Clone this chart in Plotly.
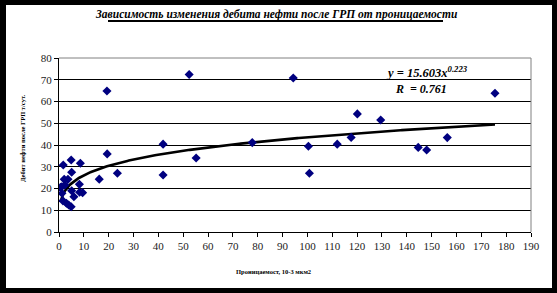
import numpy as np
import plotly.graph_objects as go

# Data
perm = [1.7, 4.9, 8.6, 5.1, 2.1, 3.6, 1.1, 2.4, 8.2, 5.1, 8.3, 9.5, 6.0, 1.6, 3.0, 3.9, 4.9, 1.2, 0.6,
        16.2, 19.3, 19.4, 23.5, 41.9, 41.9, 52.4, 55.2, 77.8, 94.3, 100.4, 100.8, 112.0, 117.6,
        120.1, 129.5, 144.6, 148.0, 156.3, 175.5]
rate = [30.8, 33.1, 31.6, 27.5, 24.2, 24.2, 20.8, 21.6, 21.9, 19.0, 18.3, 18.1, 16.2, 14.3, 13.2, 12.4, 11.6, 17.8, 20.6,
        24.3, 64.8, 35.9, 27.0, 40.4, 26.2, 72.4, 34.0, 41.1, 70.8, 39.4, 27.0, 40.4, 43.5,
        54.3, 51.5, 38.9, 37.7, 43.4, 63.8]

# Power trendline coefficients as displayed on the chart
coef_a = 15.603
coef_b = 0.223
r_value = 0.761

x_ticks = list(range(0, 200, 10))
y_ticks = list(range(0, 90, 10))

title_text = "Зависимость изменения дебита нефти после ГРП от проницаемости"
x_title = "Проницаемост, 10-3 мкм2"
y_title = "Дебит нефти после ГРП т/сут."

W, H = 557, 293
L, R, T, B = 59, 26, 58, 61
PW, PH = W - L - R, H - T - B


def px(x):
    return (x - L) / PW


def py(y):
    return (H - B - y) / PH


trend_x = np.linspace(min(perm), max(perm), 300)
trend_y = coef_a * trend_x ** coef_b

fig = go.Figure()
fig.add_trace(go.Scatter(x=trend_x, y=trend_y, mode="lines",
                         line=dict(color="black", width=2.6), hoverinfo="skip"))
fig.add_trace(go.Scatter(x=perm, y=rate, mode="markers",
                         marker=dict(symbol="diamond", size=7, color="#000080",
                                     line=dict(width=0))))

serif = "Liberation Serif, Times New Roman, serif"

fig.update_layout(
    width=W, height=H,
    margin=dict(l=L, r=R, t=T, b=B, pad=0),
    paper_bgcolor="black",
    plot_bgcolor="white",
    showlegend=False,
    font=dict(family=serif, color="black", size=11),
    xaxis=dict(range=[0, 190], tickvals=x_ticks, showgrid=False, zeroline=False,
               showline=True, linecolor="black", linewidth=1,
               ticks="outside", ticklen=4, tickcolor="black",
               tickfont=dict(family=serif, size=11, color="#222")),
    yaxis=dict(range=[0, 80], tickvals=y_ticks, showgrid=True, gridcolor="black", gridwidth=1,
               zeroline=False, showline=True, linecolor="black", linewidth=1,
               ticks="outside", ticklen=4, tickcolor="black",
               tickfont=dict(family=serif, size=11, color="#222")),
)

shapes = [
    # white card on black background
    dict(type="rect", xref="paper", yref="paper", x0=px(6), x1=px(552), y0=py(288), y1=py(5),
         fillcolor="white", line=dict(width=0), layer="below"),
    # grey plot-area border (top and right)
    dict(type="line", xref="paper", yref="paper", x0=0, x1=1, y0=1, y1=1,
         line=dict(color="#808080", width=1), layer="above"),
    dict(type="line", xref="paper", yref="paper", x0=1, x1=1, y0=0, y1=1,
         line=dict(color="#808080", width=1), layer="above"),
    # title underline
    dict(type="line", xref="paper", yref="paper", x0=px(108), x1=px(443), y0=py(21), y1=py(21),
         line=dict(color="black", width=2), layer="above"),
]
fig.update_layout(shapes=shapes)

annotations = [
    dict(text="<b><i>" + title_text + "</i></b>", x=px(276), y=py(15), xref="paper", yref="paper",
         showarrow=False, xanchor="center", yanchor="middle",
         font=dict(family=serif, size=11.5, color="black")),
    dict(text="<b><i>y = %.3fx<sup>%.3f</sup></i></b>" % (coef_a, coef_b), x=px(427), y=py(72),
         xref="paper", yref="paper", showarrow=False, xanchor="center", yanchor="middle",
         font=dict(family=serif, size=12.5, color="black")),
    dict(text="<b><i>R  = %.3f</i></b>" % r_value, x=px(421), y=py(89),
         xref="paper", yref="paper", showarrow=False, xanchor="center", yanchor="middle",
         font=dict(family=serif, size=12, color="black")),
    dict(text="<b>" + x_title + "</b>", x=px(273), y=py(271), xref="paper", yref="paper",
         showarrow=False, xanchor="center", yanchor="middle",
         font=dict(family=serif, size=6.5, color="black")),
    dict(text="<b>" + y_title + "</b>", x=px(22), y=py(138), xref="paper", yref="paper",
         showarrow=False, xanchor="center", yanchor="middle", textangle=-90,
         font=dict(family=serif, size=6.5, color="black")),
]
fig.update_layout(annotations=annotations)

fig.write_html("out.html")
